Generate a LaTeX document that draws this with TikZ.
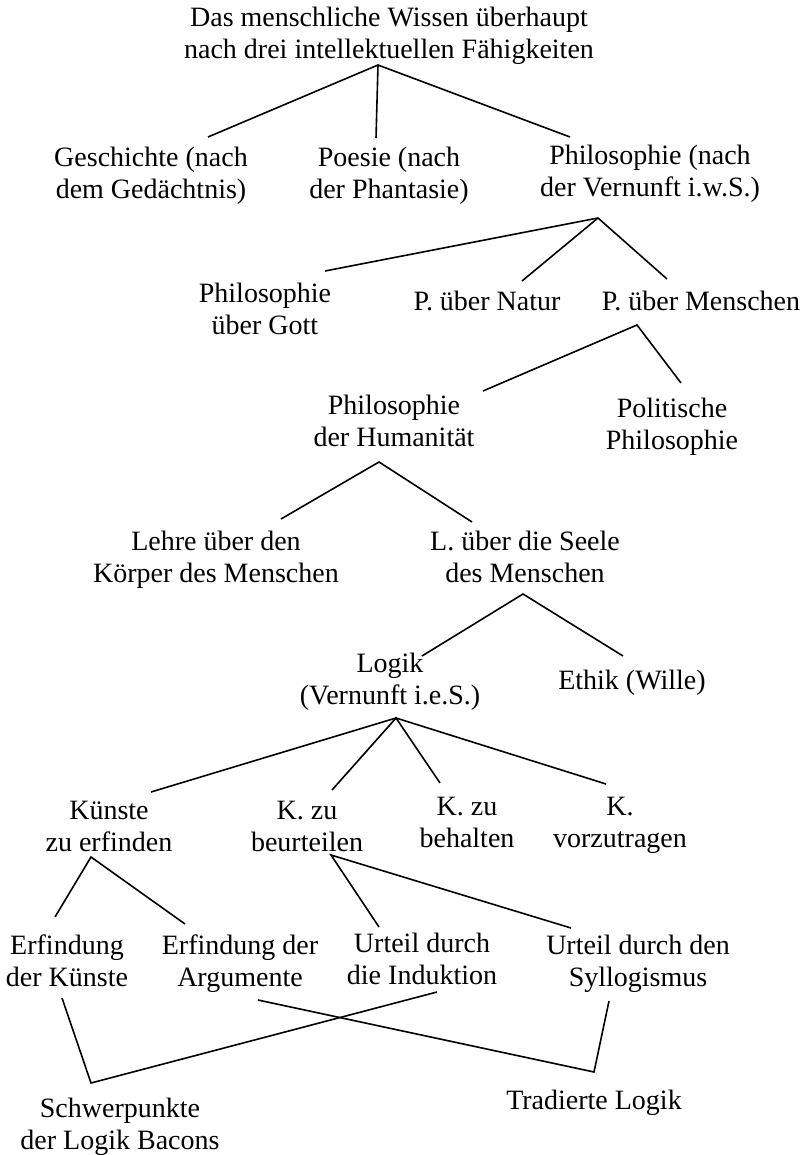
\documentclass[tikz,border=0pt]{standalone}
\usepackage{fontspec}
\setmainfont{Liberation Serif}
\begin{document}
\begin{tikzpicture}[x=1pt,y=-1pt,
  lbl/.style={align=center,anchor=base,inner sep=0pt,font=\fontsize{28}{32}\selectfont},
  conn/.style={line width=1.6pt}]
\useasboundingbox (0,0) rectangle (811,1155);
% nodes (x, baseline of the last line)
\node[lbl] (root) at (389,59) {Das menschliche Wissen überhaupt\\nach drei intellektuellen Fähigkeiten};
\node[lbl] (gesch) at (151,199) {Geschichte (nach\\dem Gedächtnis)};
\node[lbl] (poesie) at (389,199) {Poesie (nach\\der Phantasie)};
\node[lbl] (phil) at (650,197) {Philosophie (nach\\der Vernunft i.w.S.)};
\node[lbl] (gott) at (265,334) {Philosophie\\über Gott};
\node[lbl] (natur) at (487,310) {P. über Natur};
\node[lbl] (menschen) at (701,310) {P. über Menschen};
\node[lbl] (human) at (394,446) {Philosophie\\der Humanität};
\node[lbl] (polit) at (672,449) {Politische\\Philosophie};
\node[lbl] (koerper) at (216,582) {Lehre über den\\Körper des Menschen};
\node[lbl] (seele) at (525,582) {L. über die Seele\\des Menschen};
\node[lbl] (logik) at (390,704) {Logik\\(Vernunft i.e.S.)};
\node[lbl] (ethik) at (632,689) {Ethik (Wille)};
\node[lbl] (erfinden) at (109,851) {Künste\\zu erfinden};
\node[lbl] (beurteilen) at (307,851) {K. zu\\beurteilen};
\node[lbl] (behalten) at (467,847) {K. zu\\behalten};
\node[lbl] (vortragen) at (620,847) {K.\\vorzutragen};
\node[lbl] (kuenste) at (67,986) {Erfindung\\der Künste};
\node[lbl] (argumente) at (240,986) {Erfindung der\\Argumente};
\node[lbl] (induktion) at (422,984) {Urteil durch\\die Induktion};
\node[lbl] (syllog) at (638,986) {Urteil durch den\\Syllogismus};
\node[lbl] (bacon) at (120,1149) {Schwerpunkte\\der Logik Bacons};
\node[lbl] (tradiert) at (594,1109) {Tradierte Logik};
% connector end points
\coordinate (root-b) at (378,65);
\coordinate (gesch-t) at (208,137);
\coordinate (poesie-t) at (376,138);
\coordinate (phil-t) at (570,137);
\coordinate (phil-b) at (598,218);
\coordinate (gott-t) at (325,271);
\coordinate (natur-t) at (522,281);
\coordinate (menschen-t) at (667,279);
\coordinate (menschen-b) at (637,325);
\coordinate (human-t) at (483,391);
\coordinate (polit-t) at (681,383);
\coordinate (human-b) at (379,462);
\coordinate (koerper-t) at (281,519);
\coordinate (seele-t) at (472,522);
\coordinate (seele-b) at (523,594);
\coordinate (logik-t) at (422,656);
\coordinate (ethik-t) at (623,656);
\coordinate (logik-b) at (396,718);
\coordinate (erfinden-t) at (151,792);
\coordinate (beurteilen-t) at (332,790);
\coordinate (behalten-t) at (440,783);
\coordinate (vortragen-t) at (606,784);
\coordinate (erfinden-b) at (91,857);
\coordinate (kuenste-t) at (55,917);
\coordinate (argumente-t) at (185,924);
\coordinate (beurteilen-b) at (331,855);
\coordinate (induktion-t) at (379,927);
\coordinate (syllog-t) at (571,928);
\coordinate (kuenste-b) at (62,998);
\coordinate (induktion-b) at (437,992);
\coordinate (argumente-b) at (258,1000);
\coordinate (syllog-b) at (609,1001);
\coordinate (bacon-t) at (91,1083);
\coordinate (tradiert-t) at (594,1072);
% connectors
\draw[conn] (gesch-t) -- (root-b) -- (phil-t);
\draw[conn] (root-b) -- (poesie-t);
\draw[conn] (gott-t) -- (phil-b) -- (menschen-t);
\draw[conn] (phil-b) -- (natur-t);
\draw[conn] (human-t) -- (menschen-b) -- (polit-t);
\draw[conn] (koerper-t) -- (human-b) -- (seele-t);
\draw[conn] (logik-t) -- (seele-b) -- (ethik-t);
\draw[conn] (erfinden-t) -- (logik-b) -- (vortragen-t);
\draw[conn] (beurteilen-t) -- (logik-b) -- (behalten-t);
\draw[conn] (kuenste-t) -- (erfinden-b) -- (argumente-t);
\draw[conn] (induktion-t) -- (beurteilen-b) -- (syllog-t);
\draw[conn] (kuenste-b) -- (bacon-t) -- (induktion-b);
\draw[conn] (argumente-b) -- (tradiert-t) -- (syllog-b);
\end{tikzpicture}
\end{document}
